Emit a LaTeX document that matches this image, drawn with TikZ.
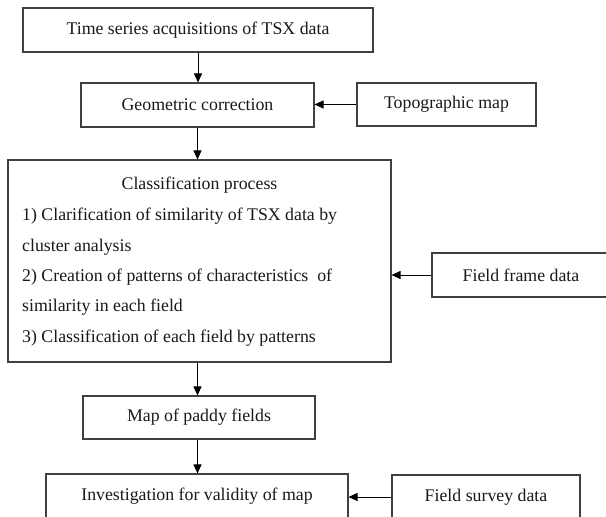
\documentclass[tikz,border=0pt]{standalone}
\usepackage{fontspec}
\setmainfont{Liberation Serif}
\usetikzlibrary{arrows.meta}
\begin{document}
\begin{tikzpicture}[x=1pt,y=-1pt,
  box/.style={draw=black!75,line width=1.1pt,fill=white,inner sep=0pt,text=black!90},
  txt/.style={inner sep=0pt,text=black!90,text height=12.5pt,text depth=3.5pt},
  arr/.style={draw=black,line width=0.9pt,-{Triangle[length=9pt,width=8pt]}},
  font=\fontsize{17.8}{20}\selectfont]
\useasboundingbox (0,0) rectangle (606,517);
\clip (0,0) rectangle (606,517);
\node[box,minimum width=350pt,minimum height=44pt] (acq) at (198,30) {Time series acquisitions of TSX data};
\node[box,minimum width=233pt,minimum height=44pt] (geo) at (197.5,105) {Geometric correction};
\node[box,minimum width=179pt,minimum height=43pt] (topo) at (446.5,104.5) {Topographic map};
\node[box,minimum width=383pt,minimum height=202pt] (cls) at (199.5,261) {};
\node[txt] (t0) at (199.5,185) {Classification process};
\node[txt,anchor=west] (t1) at (22,216) {1) Clarification of similarity of TSX data by};
\node[txt,anchor=west] (t2) at (22,247) {cluster analysis};
\node[txt,anchor=west] (t3) at (22,277) {2) Creation of patterns of characteristics\hspace{0.25em} of};
\node[txt,anchor=west] (t4) at (22,307) {similarity in each field};
\node[txt,anchor=west] (t5) at (22,338) {3) Classification of each field by patterns};
\node[box,minimum width=178pt,minimum height=44pt] (ffd) at (521,275) {Field frame data};
\node[box,minimum width=232pt,minimum height=43pt] (map) at (199,417.5) {Map of paddy fields};
\node[box,minimum width=302pt,minimum height=44pt] (inv) at (197,496) {Investigation for validity of map};
\node[box,minimum width=188pt,minimum height=44pt] (fsd) at (486,497) {Field survey data};
\draw[arr] (acq.south) -- (acq.south |- geo.north);
\draw[arr] (topo.west) -- (topo.west -| geo.east);
\draw[arr] (geo.south) -- (geo.south |- cls.north);
\draw[arr] (ffd.west) -- (ffd.west -| cls.east);
\draw[arr] (cls.south -| geo.south) -- (geo.south |- map.north);
\draw[arr] (map.south -| geo.south) -- (geo.south |- inv.north);
\draw[arr] (fsd.west) -- (fsd.west -| inv.east);
\end{tikzpicture}
\end{document}
